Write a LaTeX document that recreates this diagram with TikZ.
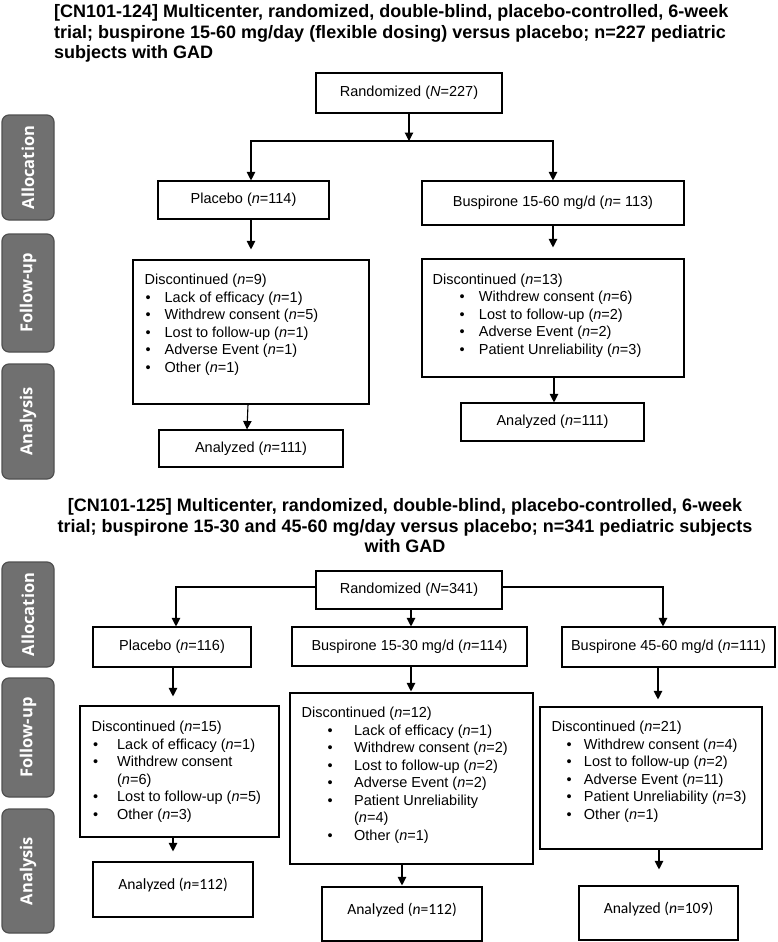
\documentclass[tikz,border=0pt]{standalone}
\usepackage{fontspec}
\setmainfont{Liberation Sans}
\newfontfamily\tabfont{Open Sans}
\newfontfamily\calfont{Carlito}
\usepackage{xcolor}
\usepackage{tikz}
\usetikzlibrary{arrows.meta, positioning, calc}

\definecolor{tabgray}{HTML}{707070}
\definecolor{tabedge}{HTML}{505050}

\newcommand{\bodysize}{\fontsize{14.5}{17.5}\selectfont}
% bullet line: offset, bullet box width, text
\newcommand{\li}[3]{\hspace*{#1pt}\makebox[#2pt][l]{\textbullet}#3}
\newcommand{\nn}[1]{(\textit{n}=#1)}

\begin{document}
\begin{tikzpicture}[
    x=1pt, y=-1pt,
    box/.style={draw, rectangle, line width=1.1pt, inner sep=0pt, font=\bodysize},
    calbox/.style={box, font=\calfont\fontsize{15.6}{18}\selectfont, text height=27pt, text depth=27pt},
    listtext/.style={inner sep=0pt, align=left, anchor=north west, font=\bodysize},
    phase/.style={draw=tabedge, fill=tabgray, rounded corners=7pt, line width=1.2pt, rotate=90,
        text=white, font=\tabfont\bfseries\fontsize{16.5}{18}\selectfont, minimum height=52pt},
    title/.style={inner sep=0pt, font=\bfseries\fontsize{18}{20.8}\selectfont},
    line/.style={draw, line width=1.1pt},
    arrow/.style={line, -{Triangle[width=8.5pt, length=8.5pt]}}
]
    \useasboundingbox (0,0) rectangle (777,942);

    % ---------------- CN101-124 ----------------
    \node[title, anchor=north west, align=left] (title1) at (54,4) {[CN101-124] Multicenter, randomized, double-blind, placebo-controlled, 6-week\\
        trial; buspirone 15-60 mg/day (flexible dosing) versus placebo; n=227 pediatric\\
        subjects with GAD};

    % Phase tabs
    \node[phase, minimum width=105] (alloc1) at (28,167.5) {Allocation};
    \node[phase, minimum width=118] (follow1) at (28,293) {Follow-up};
    \node[phase, minimum width=115] (anal1) at (28,421.5) {Analysis};

    % Boxes
    \node[box, minimum width=186, minimum height=40] (rand1) at (409,93) {Randomized (\textit{N}=227)};
    \node[box, minimum width=171, minimum height=38] (plc1) at (243.5,200) {Placebo \nn{114}};
    \node[box, minimum width=262, minimum height=44] (bus1) at (553,203) {Buspirone 15-60 mg/d (\textit{n}= 113)};
    \node[box, minimum width=236, minimum height=144] (disA) at (251,332) {};
    \node[box, minimum width=262, minimum height=118] (disB) at (553,318) {};
    \node[box, minimum width=184, minimum height=37] (anA) at (251,448.5) {Analyzed \nn{111}};
    \node[box, minimum width=183, minimum height=38] (anB) at (552.5,422) {Analyzed \nn{111}};

    \node[listtext] (disAtxt) at ([xshift=12, yshift=-14.5]disA.north west) {Discontinued \nn{9}\\
        \li{1}{19}{Lack of efficacy \nn{1}}\\
        \li{1}{19}{Withdrew consent \nn{5}}\\
        \li{1}{19}{Lost to follow-up \nn{1}}\\
        \li{1}{19}{Adverse Event \nn{1}}\\
        \li{1}{19}{Other \nn{1}}};
    \node[listtext] (disBtxt) at ([xshift=11, yshift=-15]disB.north west) {Discontinued \nn{13}\\
        \li{27}{19.3}{Withdrew consent \nn{6}}\\
        \li{27}{19.3}{Lost to follow-up \nn{2}}\\
        \li{27}{19.3}{Adverse Event \nn{2}}\\
        \li{27}{19.3}{Patient Unreliability \nn{3}}};

    % Connectors
    \coordinate (fork1) at (409,141);
    \draw[arrow] (rand1) -- (fork1);
    \draw[arrow] (fork1) -| ([xshift=7.5]plc1.north);
    \draw[arrow] (fork1) -| (bus1.north);
    \draw[arrow] ([xshift=7.5]plc1.south) -- ([yshift=10]disA.north);
    \draw[arrow] (bus1.south) -- ([yshift=11]disB.north);
    \draw[arrow] ([xshift=-3]disA.south) -- ([xshift=-4]anA.north);
    \draw[arrow] ([xshift=1]disB.south) -- ([xshift=1.5]anB.north);

    % ---------------- CN101-125 ----------------
    \node[title, anchor=north, align=center] (title2) at (405,498) {[CN101-125] Multicenter, randomized, double-blind, placebo-controlled, 6-week\\
        trial; buspirone 15-30 and 45-60 mg/day versus placebo; n=341 pediatric subjects\\
        with GAD};

    % Phase tabs
    \node[phase, minimum width=105] (alloc2) at (28,614.5) {Allocation};
    \node[phase, minimum width=119] (follow2) at (28,737.5) {Follow-up};
    \node[phase, minimum width=124] (anal2) at (28,871) {Analysis};

    % Boxes
    \node[box, minimum width=186, minimum height=38] (rand2) at (409,590) {Randomized (\textit{N}=341)};
    \node[box, minimum width=158, minimum height=40] (plc2) at (172,647) {Placebo \nn{116}};
    \node[box, minimum width=235, minimum height=39] (bus2) at (409.5,646.5) {Buspirone 15-30 mg/d \nn{114}};
    \node[box, minimum width=213, minimum height=40] (bus3) at (668.5,647) {Buspirone 45-60 mg/d \nn{111}};
    \node[box, minimum width=199, minimum height=131] (disC) at (179.5,771.5) {};
    \node[box, minimum width=243, minimum height=171] (disD) at (411.5,778.5) {};
    \node[box, minimum width=222, minimum height=142] (disE) at (651,778) {};
    \node[calbox, minimum width=160, text depth=28pt] (anC) at (173,889.5) {Analyzed \nn{112}};
    \node[calbox, minimum width=160] (anD) at (402,914) {Analyzed \nn{112}};
    \node[calbox, minimum width=159] (anE) at (658.5,913) {Analyzed \nn{109}};

    \node[listtext] (disCtxt) at ([xshift=12, yshift=-15.5]disC.north west) {Discontinued \nn{15}\\
        \li{1.5}{24}{Lack of efficacy \nn{1}}\\
        \li{1.5}{24}{Withdrew consent}\\
        \hspace*{25.5pt}\nn{6}\\
        \li{1.5}{24}{Lost to follow-up \nn{5}}\\
        \li{1.5}{24}{Other \nn{3}}};
    \node[listtext] (disDtxt) at ([xshift=12, yshift=-14.5]disD.north west) {Discontinued \nn{12}\\
        \li{26}{26.5}{Lack of efficacy \nn{1}}\\
        \li{26}{26.5}{Withdrew consent \nn{2}}\\
        \li{26}{26.5}{Lost to follow-up \nn{2}}\\
        \li{26}{26.5}{Adverse Event \nn{2}}\\
        \li{26}{26.5}{Patient Unreliability}\\
        \hspace*{52.5pt}\nn{4}\\
        \li{26}{26.5}{Other \nn{1}}};
    \node[listtext] (disEtxt) at ([xshift=12, yshift=-14.5]disE.north west) {Discontinued \nn{21}\\
        \li{15}{17.3}{Withdrew consent \nn{4}}\\
        \li{15}{17.3}{Lost to follow-up \nn{2}}\\
        \li{15}{17.3}{Adverse Event \nn{11}}\\
        \li{15}{17.3}{Patient Unreliability \nn{3}}\\
        \li{15}{17.3}{Other \nn{1}}};

    % Connectors
    \draw[arrow] ([yshift=3]rand2.west) -| ([xshift=4]plc2.north);
    \draw[arrow] ([xshift=2]rand2.south) -- ([xshift=1.5]bus2.north);
    \draw[arrow] ([yshift=3]rand2.east) -| ([xshift=-5.5]bus3.north);
    \draw[arrow] ([xshift=1]plc2.south) -- ([xshift=-6.5, yshift=9]disC.north);
    \draw[arrow] ([xshift=1.5]bus2.south) -- ([xshift=-0.5, yshift=1]disD.north);
    \draw[arrow] ([xshift=-10.5]bus3.south) -- ([xshift=7, yshift=7]disE.north);
    \draw[arrow] ([xshift=-6.5]disC.south) -- ([yshift=10]anC.north);
    \draw[arrow] ([xshift=-9.5]disD.south) -- ([yshift=1]anD.north);
    \draw[arrow] ([xshift=8]disE.south) -- ([xshift=0.5, yshift=16]anE.north);
\end{tikzpicture}
\end{document}
